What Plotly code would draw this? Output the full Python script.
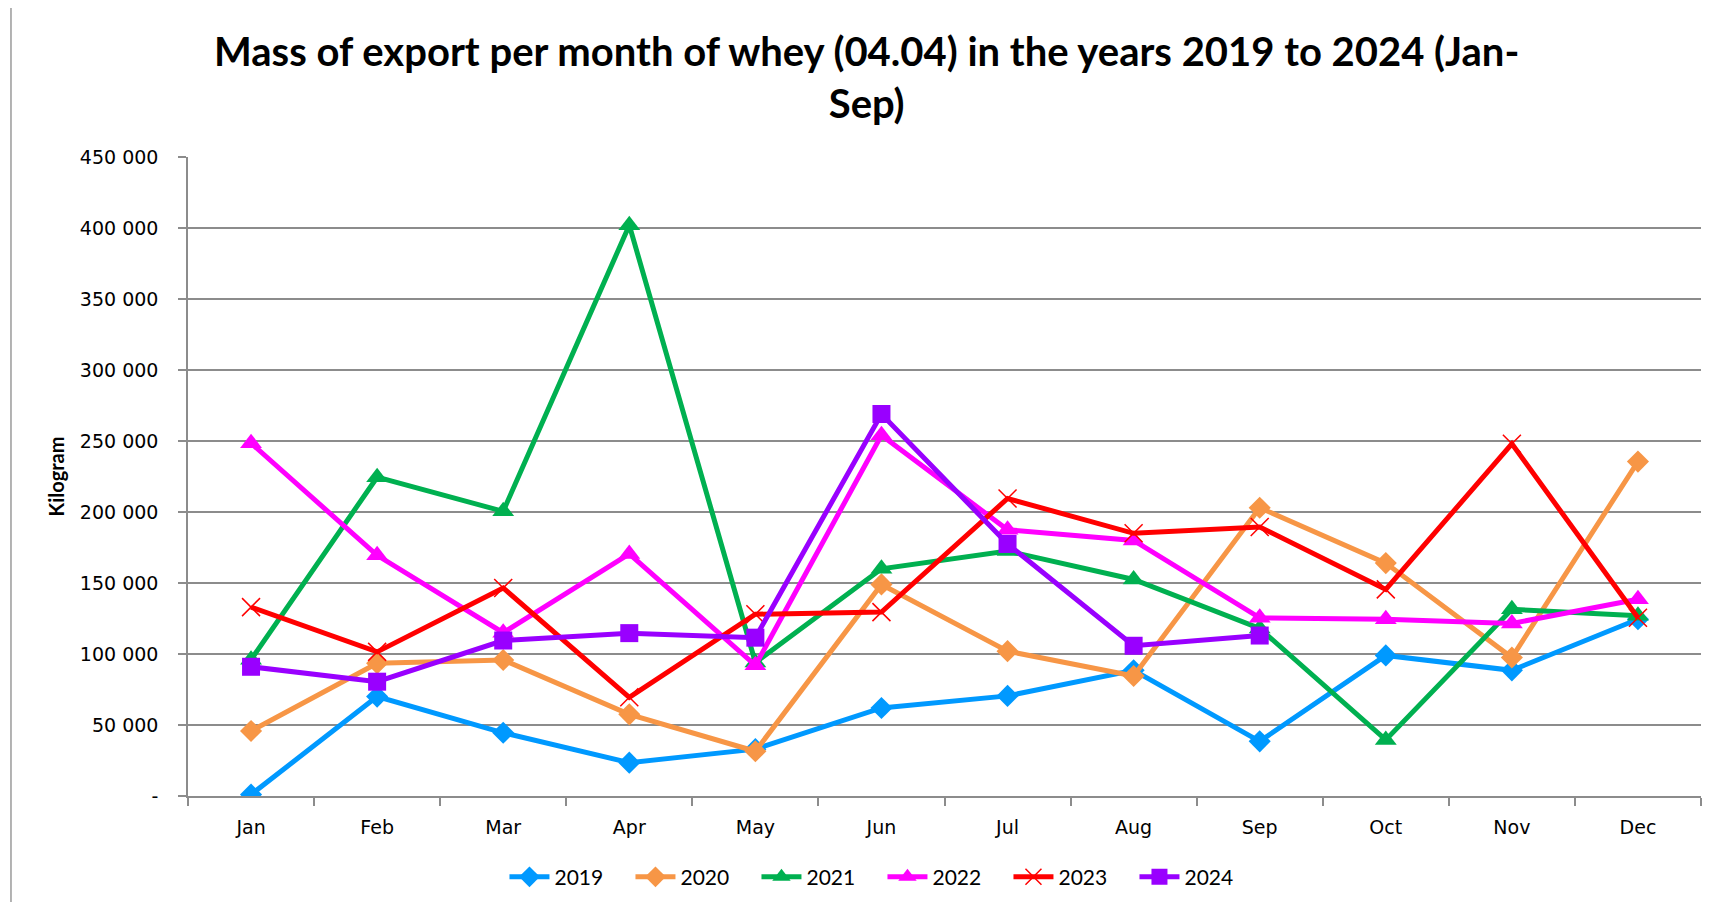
import plotly.graph_objects as go

months = ["Jan", "Feb", "Mar", "Apr", "May", "Jun", "Jul", "Aug", "Sep", "Oct", "Nov", "Dec"]
years = ["2019", "2020", "2021", "2022", "2023", "2024"]

v2019 = [1000, 70000, 44500, 23500, 33000, 62000, 70500, 88500, 38500, 99000, 88500, 124500]
v2020 = [45800, 93500, 95800, 57500, 31500, 149000, 102000, 84500, 203000, 164000, 97500, 235500]
v2021 = [96000, 224500, 200500, 402000, 94000, 160000, 172500, 152500, 118000, 39500, 131500, 127000]
v2022 = [248500, 169500, 115000, 170500, 92000, 254000, 187500, 180000, 125500, 124500, 121500, 138500]
v2023 = [133000, 101500, 146500, 69500, 128000, 129500, 209500, 185000, 189500, 145500, 248000, 125500]
v2024 = [91000, 80500, 109500, 114700, 111500, 269000, 177500, 105800, 113000]

tick_vals = [0, 50000, 100000, 150000, 200000, 250000, 300000, 350000, 400000, 450000]
tick_text = ["-", "50 000", "100 000", "150 000", "200 000", "250 000", "300 000", "350 000", "400 000", "450 000"]

title_text = "Mass of export per month of whey (04.04) in the years 2019 to 2024 (Jan-<br>Sep)"
y_title = "Kilogram"

series = [v2019, v2020, v2021, v2022, v2023, v2024]
colors = ["#0099FF", "#F79646", "#00B050", "#FF00FF", "#FF0000", "#9900FF"]
symbols = ["diamond", "diamond", "triangle-up", "triangle-up", "x-thin", "square"]
sizes = [17, 17, 19, 19, 18, 18]

fig = go.Figure()
for name, vals, col, sym, sz in zip(years, series, colors, symbols, sizes):
    marker = dict(symbol=sym, size=sz, color=col)
    if sym == "x-thin":
        marker["line"] = dict(color=col, width=1.5)
    fig.add_trace(go.Scatter(
        x=months[:len(vals)], y=vals, name=name, mode="lines+markers",
        line=dict(color=col, width=5), marker=marker,
    ))

grid = "#8C8C8C"
fig.update_layout(
    width=1697, height=894,
    margin=dict(l=180, r=4, t=149, b=106),
    plot_bgcolor="white", paper_bgcolor="white",
    title=dict(text=title_text, x=0.506, xanchor="center", xref="container",
               y=1 - 58 / 894, yanchor="top", yref="container",
               font=dict(family="Lato", size=40, color="black", weight="bold")),
    showlegend=True,
    legend=dict(orientation="h", x=0.459, xanchor="center", y=-0.127, yanchor="middle",
                font=dict(family="Lato", size=21, color="black"),
                itemwidth=40, traceorder="normal", entrywidth=71),
    xaxis=dict(type="category", categoryorder="array", categoryarray=months,
               range=[-0.5, 11.5], showgrid=False, showline=True, linecolor=grid, linewidth=1.5,
               ticks="outside", tickson="boundaries", ticklen=8, tickcolor=grid, tickwidth=1.5,
               tickfont=dict(family="DejaVu Sans", size=19, color="black"),
               ticklabelstandoff=13),
    yaxis=dict(range=[0, 450000], tickvals=tick_vals, ticktext=tick_text,
               showgrid=True, gridcolor=grid, gridwidth=1.5, zeroline=False,
               showline=True, linecolor=grid, linewidth=1.5,
               ticks="outside", ticklen=8, tickcolor=grid, tickwidth=1.5,
               tickfont=dict(family="DejaVu Sans", size=19, color="black"),
               ticklabelstandoff=16),
    annotations=[dict(text="<b>" + y_title + "</b>", textangle=-90, xref="paper", yref="paper",
                      x=-0.0879, y=0.5, xanchor="center", yanchor="middle", showarrow=False,
                      font=dict(family="Lato", size=20, color="black"))],
    shapes=[dict(type="line", xref="paper", yref="paper", x0=-0.117, x1=-0.117, y0=-0.2, y1=1.25,
                 line=dict(color="#9A9A9A", width=1.5))],
)

fig.write_html("out.html")
